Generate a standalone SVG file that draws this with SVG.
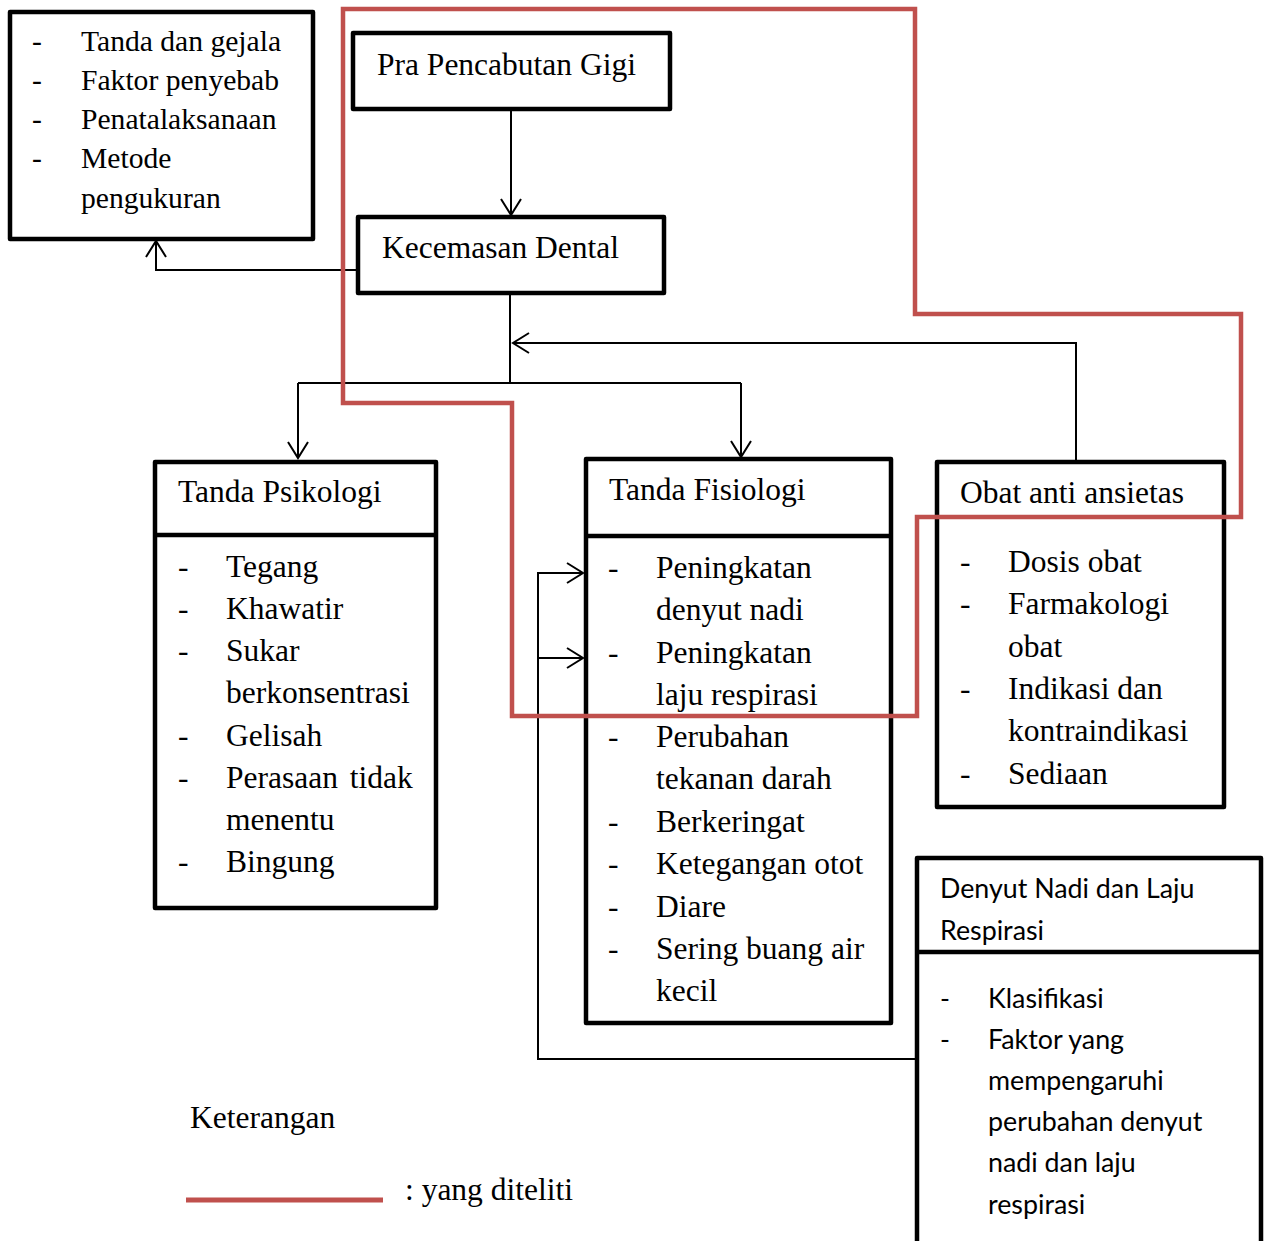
<svg xmlns="http://www.w3.org/2000/svg" width="1270" height="1241" viewBox="0 0 1270 1241">
<style>
.box{fill:#fff;stroke:#000;stroke-width:4.5;stroke-linejoin:round}
.div{stroke:#000;stroke-width:4.5}
.con{fill:none;stroke:#000;stroke-width:2}
.t{font-family:"Liberation Serif","Times New Roman",serif;font-size:31.5px;fill:#000}
.ts{font-family:"Liberation Serif","Times New Roman",serif;font-size:29.6px;fill:#000}
.s{font-family:Lato,"Open Sans",sans-serif;font-size:26.8px;fill:#000}
.red{fill:none;stroke:#C0504D;stroke-width:4.5;stroke-linejoin:miter}
</style>
<defs>
<marker id="arr" markerUnits="userSpaceOnUse" markerWidth="24" markerHeight="24" viewBox="-18 -12 20 24" refX="0" refY="0" orient="auto">
<path d="M-16,-10 L0,0 L-16,10" fill="none" stroke="#000" stroke-width="2"/>
</marker>
</defs>

<g id="connectors">
<path class="con" d="M511,109 V215" marker-end="url(#arr)"/>
<path class="con" d="M358,270 H156 V241" marker-end="url(#arr)"/>
<path class="con" d="M510,293 V383"/>
<path class="con" d="M298,383 H741"/>
<path class="con" d="M298,383 V458" marker-end="url(#arr)"/>
<path class="con" d="M741,383 V457" marker-end="url(#arr)"/>
<path class="con" d="M1076,461 V343 H513" marker-end="url(#arr)"/>
<path class="con" d="M917,1059 H538 V573 H583" marker-end="url(#arr)"/>
<path class="con" d="M538,658 H583" marker-end="url(#arr)"/>
</g>

<g id="node-topleft">
<rect class="box" x="10" y="12" width="303" height="227"/>
<text class="ts" x="32" y="51">-</text><text class="ts" x="81" y="51">Tanda dan gejala</text>
<text class="ts" x="32" y="90">-</text><text class="ts" x="81" y="90">Faktor penyebab</text>
<text class="ts" x="32" y="129">-</text><text class="ts" x="81" y="129">Penatalaksanaan</text>
<text class="ts" x="32" y="168">-</text><text class="ts" x="81" y="168">Metode</text>
<text class="ts" x="81" y="208">pengukuran</text>
</g>

<g id="node-pra">
<rect class="box" x="353" y="33" width="317" height="76"/>
<text class="t" x="377" y="75">Pra Pencabutan Gigi</text>
</g>

<g id="node-kecemasan">
<rect class="box" x="358" y="217" width="306" height="76"/>
<text class="t" x="382" y="258">Kecemasan Dental</text>
</g>

<g id="node-psikologi">
<rect class="box" x="155" y="462" width="281" height="446"/>
<line class="div" x1="155" y1="535" x2="436" y2="535"/>
<text class="t" x="178" y="502">Tanda Psikologi</text>
<text class="t" x="178" y="577">-</text><text class="t" x="226" y="577">Tegang</text>
<text class="t" x="178" y="619">-</text><text class="t" x="226" y="619">Khawatir</text>
<text class="t" x="178" y="661">-</text><text class="t" x="226" y="661">Sukar</text>
<text class="t" x="226" y="703">berkonsentrasi</text>
<text class="t" x="178" y="746">-</text><text class="t" x="226" y="746">Gelisah</text>
<text class="t" x="178" y="788">-</text><text class="t" x="226" y="788" word-spacing="4">Perasaan tidak</text>
<text class="t" x="226" y="830">menentu</text>
<text class="t" x="178" y="872">-</text><text class="t" x="226" y="872">Bingung</text>
</g>

<g id="node-fisiologi">
<rect class="box" x="586" y="459" width="305" height="564"/>
<line class="div" x1="586" y1="536" x2="891" y2="536" stroke-width="6"/>
<text class="t" x="609" y="500">Tanda Fisiologi</text>
<text class="t" x="608" y="578">-</text><text class="t" x="656" y="578">Peningkatan</text>
<text class="t" x="656" y="620">denyut nadi</text>
<text class="t" x="608" y="663">-</text><text class="t" x="656" y="663">Peningkatan</text>
<text class="t" x="656" y="705">laju respirasi</text>
<text class="t" x="608" y="747">-</text><text class="t" x="656" y="747">Perubahan</text>
<text class="t" x="656" y="789">tekanan darah</text>
<text class="t" x="608" y="832">-</text><text class="t" x="656" y="832">Berkeringat</text>
<text class="t" x="608" y="874">-</text><text class="t" x="656" y="874">Ketegangan otot</text>
<text class="t" x="608" y="917">-</text><text class="t" x="656" y="917">Diare</text>
<text class="t" x="608" y="959">-</text><text class="t" x="656" y="959">Sering buang air</text>
<text class="t" x="656" y="1001">kecil</text>
</g>

<g id="node-obat">
<rect class="box" x="937" y="462" width="287" height="345"/>
<text class="t" x="960" y="503">Obat anti ansietas</text>
<text class="t" x="960" y="572">-</text><text class="t" x="1008" y="572">Dosis obat</text>
<text class="t" x="960" y="614">-</text><text class="t" x="1008" y="614">Farmakologi</text>
<text class="t" x="1008" y="657">obat</text>
<text class="t" x="960" y="699">-</text><text class="t" x="1008" y="699">Indikasi dan</text>
<text class="t" x="1008" y="741">kontraindikasi</text>
<text class="t" x="960" y="784">-</text><text class="t" x="1008" y="784">Sediaan</text>
</g>

<g id="node-denyut">
<path d="M917,1245 V858 H1261 V1245" fill="#fff" stroke="#000" stroke-width="4.5" stroke-linejoin="round"/>
<line class="div" x1="917" y1="952" x2="1261" y2="952"/>
<text class="s" x="940" y="898">Denyut Nadi dan Laju</text>
<text class="s" x="940" y="940">Respirasi</text>
<text class="s" x="940" y="1008">-</text><text class="s" x="988" y="1008">Klasifikasi</text>
<text class="s" x="940" y="1049">-</text><text class="s" x="988" y="1049">Faktor yang</text>
<text class="s" x="988" y="1090">mempengaruhi</text>
<text class="s" x="988" y="1131">perubahan denyut</text>
<text class="s" x="988" y="1172">nadi dan laju</text>
<text class="s" x="988" y="1214">respirasi</text>
</g>

<g id="research-area">
<path class="red" d="M343,9 H915 V314 H1241 V517 H917 V716 H512 V403 H343 Z"/>
</g>

<g id="legend">
<text class="t" x="190" y="1128">Keterangan</text>
<line x1="186" y1="1200" x2="383" y2="1200" stroke="#C0504D" stroke-width="5"/>
<text class="t" x="405" y="1200">: yang diteliti</text>
</g>
</svg>
